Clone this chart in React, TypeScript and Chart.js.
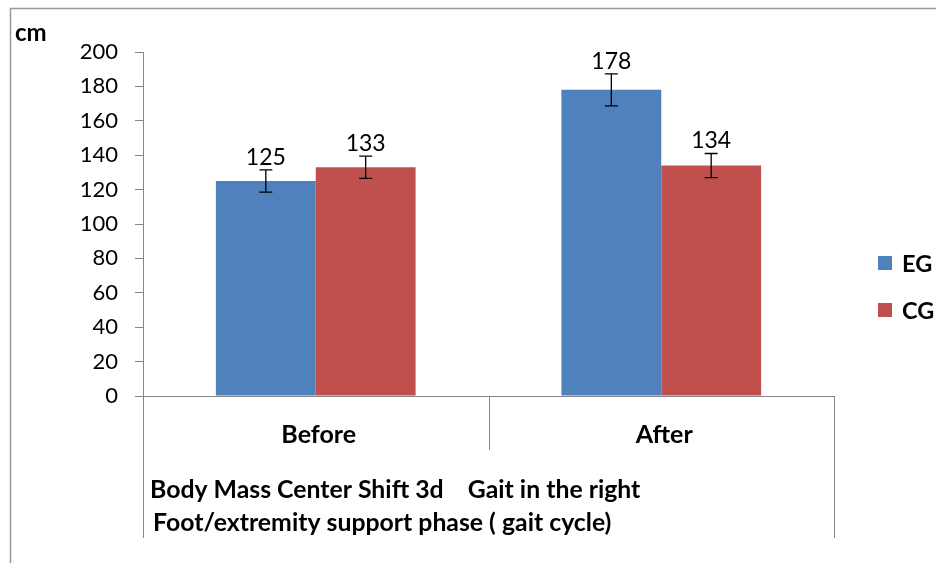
import React, { useEffect, useRef } from "react";
import { Chart, registerables } from "chart.js";

Chart.register(...registerables);

const categories = ["Before", "After"];
const seriesNames = ["EG", "CG"];
const egValues = [125, 178];
const cgValues = [133, 134];
const egErrors = [6.5, 9.3];
const cgErrors = [6.5, 7];
const yMin = 0;
const yMax = 200;
const yStep = 20;
const unitLabel = "cm";
const groupLabelLines = [
  "Body Mass Center Shift 3d    Gait in the right",
  "Foot/extremity support phase ( gait cycle)",
];

const COLORS = ["#4F81BD", "#C0504D"];
const AXIS = "#868686";
const FONT = "Lato, 'Open Sans', sans-serif";

const errorsBySeries = [egErrors, cgErrors];

const overlayPlugin = {
  id: "overlay",
  afterDatasetsDraw(chart: any) {
    const ctx = chart.ctx;
    const y = chart.scales.y;
    ctx.save();
    chart.data.datasets.forEach((ds: any, di: number) => {
      const meta = chart.getDatasetMeta(di);
      meta.data.forEach((bar: any, i: number) => {
        const v = ds.data[i];
        const e = errorsBySeries[di][i];
        const top = y.getPixelForValue(v + e);
        const bot = y.getPixelForValue(v - e);
        const x = bar.x;
        ctx.strokeStyle = "#000";
        ctx.lineWidth = 1.3;
        ctx.beginPath();
        ctx.moveTo(x, top);
        ctx.lineTo(x, bot);
        ctx.moveTo(x - 6.5, top);
        ctx.lineTo(x + 6.5, top);
        ctx.moveTo(x - 6.5, bot);
        ctx.lineTo(x + 6.5, bot);
        ctx.stroke();
        ctx.fillStyle = "#000";
        ctx.font = `23px ${FONT}`;
        ctx.textAlign = "center";
        ctx.textBaseline = "bottom";
        ctx.fillText(String(v), x, top - 1);
      });
    });
    ctx.restore();
  },
  afterDraw(chart: any) {
    const ctx = chart.ctx;
    const xs = chart.scales.x;
    const area = chart.chartArea;
    ctx.save();
    // outer border (partially cropped)
    ctx.strokeStyle = "#9a9a9a";
    ctx.lineWidth = 1.5;
    ctx.beginPath();
    ctx.moveTo(10.5, 563);
    ctx.lineTo(10.5, 8.5);
    ctx.lineTo(936, 8.5);
    ctx.stroke();

    // category dividers
    ctx.strokeStyle = AXIS;
    ctx.lineWidth = 1;
    const n = categories.length;
    const bounds: number[] = [area.left];
    for (let i = 0; i < n - 1; i++) {
      bounds.push((xs.getPixelForValue(i) + xs.getPixelForValue(i + 1)) / 2);
    }
    bounds.push(area.right);
    bounds.forEach((b, i) => {
      const bottom = i === 0 || i === bounds.length - 1 ? 538 : 450;
      const px = Math.round(b) + 0.5;
      ctx.beginPath();
      ctx.moveTo(px, area.bottom);
      ctx.lineTo(px, bottom);
      ctx.stroke();
    });

    // category labels
    ctx.fillStyle = "#000";
    ctx.font = `bold 25px ${FONT}`;
    ctx.textAlign = "center";
    ctx.textBaseline = "middle";
    categories.forEach((c, i) => {
      ctx.fillText(c, xs.getPixelForValue(i) + 3, 435);
    });

    // group label
    ctx.textAlign = "left";
    ctx.font = `bold 24.8px ${FONT}`;
    ctx.fillText(groupLabelLines[0], 150, 490);
    ctx.fillText(groupLabelLines[1], 153, 523);

    // unit label
    ctx.font = `bold 24px ${FONT}`;
    ctx.fillText(unitLabel, 15, 33);

    // legend
    ctx.font = `bold 23.5px ${FONT}`;
    seriesNames.forEach((s, i) => {
      const cy = 263 + i * 47;
      ctx.fillStyle = COLORS[i];
      ctx.fillRect(878, cy - 7, 14, 14);
      ctx.fillStyle = "#000";
      ctx.fillText(s, 902, cy + 1);
    });
    ctx.restore();
  },
};

export default function App() {
  const ref = useRef<HTMLCanvasElement | null>(null);
  useEffect(() => {
    if (!ref.current) return;
    const chart = new Chart(ref.current, {
      type: "bar",
      data: {
        labels: categories,
        datasets: [
          {
            label: seriesNames[0],
            data: egValues,
            backgroundColor: COLORS[0],
            barPercentage: 1,
            categoryPercentage: 0.578,
          },
          {
            label: seriesNames[1],
            data: cgValues,
            backgroundColor: COLORS[1],
            barPercentage: 1,
            categoryPercentage: 0.578,
          },
        ],
      },
      options: {
        responsive: false,
        animation: false,
        layout: { padding: { left: 0, right: 102, top: 52, bottom: 0 } },
        plugins: { legend: { display: false }, tooltip: { enabled: false } },
        scales: {
          x: {
            type: "category",
            offset: true,
            grid: { display: false },
            border: { display: true, color: AXIS, width: 1 },
            ticks: { display: false },
            afterFit: (s: any) => {
              s.height = 167;
            },
          },
          y: {
            min: yMin,
            max: yMax,
            ticks: {
              stepSize: yStep,
              color: "#000",
              font: { family: FONT, size: 22 },
              padding: 17,
            },
            grid: {
              display: true,
              drawOnChartArea: false,
              drawTicks: true,
              tickLength: 8,
              color: AXIS,
            },
            border: { display: true, color: AXIS, width: 1 },
            afterFit: (s: any) => {
              s.width = 143;
            },
          },
        },
      },
      plugins: [overlayPlugin],
    });
    return () => chart.destroy();
  }, []);
  return (
    <div style={{ position: "absolute", left: 0, top: 0, width: 936, height: 563, background: "#fff" }}>
      <canvas ref={ref} width={936} height={563} style={{ width: 936, height: 563 }} />
    </div>
  );
}
